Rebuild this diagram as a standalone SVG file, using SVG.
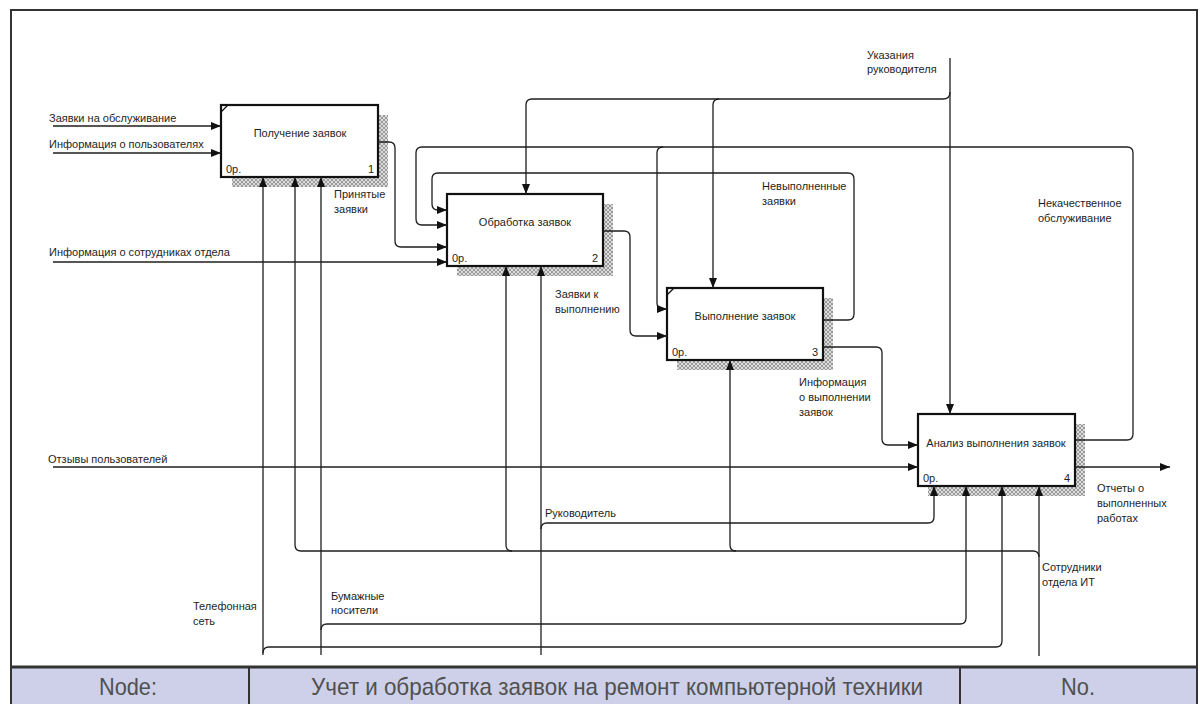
<svg xmlns="http://www.w3.org/2000/svg" width="1200" height="704" viewBox="0 0 1200 704">
  <style>
    .lbl { font-family: "Liberation Sans", Arial, sans-serif; font-size: 11px; fill: #1e1e1e; }
    .box { fill: #ffffff; stroke: #111111; stroke-width: 2.2; }
    .shadow { fill: url(#hatch); }
    .tick { stroke: #111111; stroke-width: 1.2; fill: none; }
    .con { fill: none; stroke: #1e1e1e; stroke-width: 1.3; }
    .arr { marker-end: url(#ah); }
    .frame { fill: none; stroke: #333333; stroke-width: 2; }
    .cell { fill: #cdd0e8; stroke: #333333; stroke-width: 2; }
    .hdr { font-family: "Liberation Sans", Arial, sans-serif; font-size: 24px; fill: #505050; }
  </style>
  <defs>
    <pattern id="hatch" width="4" height="4" patternUnits="userSpaceOnUse">
      <rect width="4" height="4" fill="#dcdcdc"/>
      <path d="M0,0 L4,4 M4,0 L0,4" stroke="#8a8a8a" stroke-width="0.8"/>
    </pattern>
    <marker id="ah" markerWidth="10" markerHeight="8" refX="10" refY="4" orient="auto" markerUnits="userSpaceOnUse">
      <path d="M0,0 L10,4 L0,8 z" fill="#111111"/>
    </marker>
  </defs>

  <rect x="0" y="0" width="1200" height="704" fill="#ffffff"/>

  <!-- drawing frame -->
  <g id="frame">
    <path class="frame" d="M11,667 V10 H1197 V667"/>
  </g>

  <!-- activity boxes -->
  <g id="node-1">
    <path class="shadow" d="M378,115 H388 V187 H232 V177 H378 Z"/>
    <rect class="box" x="221" y="105" width="157" height="72"/>
    <path class="tick" d="M221,112 L228,105"/>
    <text class="lbl" x="300" y="137" text-anchor="middle">Получение заявок</text>
    <text class="lbl" x="226" y="173">0р.</text>
    <text class="lbl" x="374" y="173" text-anchor="end">1</text>
  </g>
  <g id="node-2">
    <path class="shadow" d="M603,204 H613 V276 H457 V266 H603 Z"/>
    <rect class="box" x="447" y="194" width="156" height="72"/>
    <text class="lbl" x="525" y="226" text-anchor="middle">Обработка заявок</text>
    <text class="lbl" x="452" y="262">0р.</text>
    <text class="lbl" x="598" y="262" text-anchor="end">2</text>
  </g>
  <g id="node-3">
    <path class="shadow" d="M823,298 H833 V370 H677 V360 H823 Z"/>
    <rect class="box" x="667" y="288" width="156" height="72"/>
    <path class="tick" d="M667,295 L674,288"/>
    <text class="lbl" x="745" y="320" text-anchor="middle">Выполнение заявок</text>
    <text class="lbl" x="672" y="356">0р.</text>
    <text class="lbl" x="818" y="356" text-anchor="end">3</text>
  </g>
  <g id="node-4">
    <path class="shadow" d="M1075,424 H1085 V496 H928 V486 H1075 Z"/>
    <rect class="box" x="918" y="414" width="157" height="72"/>
    <text class="lbl" x="996" y="447" text-anchor="middle">Анализ выполнения заявок</text>
    <text class="lbl" x="923" y="482">0р.</text>
    <text class="lbl" x="1070" y="482" text-anchor="end">4</text>
  </g>

  <!-- arrows -->
  <g id="connectors">
    <!-- inputs from the left border -->
    <path class="con arr" d="M53,126 H221"/>
    <path class="con arr" d="M53,153 H221"/>
    <path class="con arr" d="M53,262 H447"/>
    <path class="con arr" d="M53,467 H918"/>

    <!-- 1 -> 2 -->
    <path class="con arr" d="M378,142 H389 Q395,142 395,148 V241 Q395,247 401,247 H447"/>
    <!-- 2 -> 3 -->
    <path class="con arr" d="M603,231 H624 Q630,231 630,237 V330 Q630,336 636,336 H667"/>
    <!-- 3 -> 2 feedback -->
    <path class="con arr" d="M823,320 H848 Q854,320 854,314 V179 Q854,173 848,173 H438 Q432,173 432,179 V204 Q432,210 438,210 H447"/>
    <!-- 3 -> 4 -->
    <path class="con arr" d="M823,347 H876 Q882,347 882,353 V439 Q882,445 888,445 H918"/>
    <!-- 4 -> 2, 3 feedback -->
    <path class="con arr" d="M1075,440 H1127 Q1133,440 1133,434 V153 Q1133,147 1127,147 H422 Q416,147 416,153 V219 Q416,225 422,225 H447"/>
    <path class="con arr" d="M663,147 Q657,147 657,153 V303 Q657,309 663,309 H667"/>
    <!-- 4 output -->
    <path class="con arr" d="M1075,467 H1170"/>

    <!-- control from the top -->
    <path class="con arr" d="M950,58 V414"/>
    <path class="con arr" d="M950,92 Q950,99 943,99 H532 Q526,99 526,105 V194"/>
    <path class="con arr" d="M719,99 Q713,99 713,105 V288"/>

    <!-- mechanisms from the bottom -->
    <path class="con arr" d="M263,655 V177"/>
    <path class="con arr" d="M263,653 Q263,647 269,647 H996 Q1002,647 1002,641 V486"/>
    <path class="con arr" d="M321,655 V177"/>
    <path class="con arr" d="M321,630 Q321,624 327,624 H960 Q966,624 966,618 V486"/>
    <path class="con arr" d="M541,655 V266"/>
    <path class="con arr" d="M541,529 Q541,523 547,523 H928 Q934,523 934,517 V486"/>
    <path class="con arr" d="M1039,656 V486"/>
    <path class="con" d="M301,551 H1033 Q1039,551 1039,557"/>
    <path class="con arr" d="M301,551 Q295,551 295,545 V177"/>
    <path class="con arr" d="M512,551 Q506,551 506,545 V266"/>
    <path class="con arr" d="M736,551 Q730,551 730,545 V360"/>
  </g>

  <!-- arrow labels -->
  <g id="labels">
    <text class="lbl" x="49" y="122">Заявки на обслуживание</text>
    <text class="lbl" x="49" y="148">Информация о пользователях</text>
    <text class="lbl" x="49" y="256">Информация о сотрудниках отдела</text>
    <text class="lbl" x="48" y="463">Отзывы пользователей</text>
    <text class="lbl" x="334" y="198">Принятые</text>
    <text class="lbl" x="334" y="213">заявки</text>
    <text class="lbl" x="555" y="298">Заявки к</text>
    <text class="lbl" x="555" y="313">выполнению</text>
    <text class="lbl" x="762" y="190">Невыполненные</text>
    <text class="lbl" x="762" y="205">заявки</text>
    <text class="lbl" x="867" y="59">Указания</text>
    <text class="lbl" x="867" y="73">руководителя</text>
    <text class="lbl" x="1038" y="207">Некачественное</text>
    <text class="lbl" x="1038" y="222">обслуживание</text>
    <text class="lbl" x="799" y="386">Информация</text>
    <text class="lbl" x="799" y="401">о выполнении</text>
    <text class="lbl" x="799" y="416">заявок</text>
    <text class="lbl" x="1097" y="492">Отчеты о</text>
    <text class="lbl" x="1097" y="507">выполненных</text>
    <text class="lbl" x="1097" y="522">работах</text>
    <text class="lbl" x="1042" y="571">Сотрудники</text>
    <text class="lbl" x="1042" y="586">отдела ИТ</text>
    <text class="lbl" x="545" y="517">Руководитель</text>
    <text class="lbl" x="193" y="610">Телефонная</text>
    <text class="lbl" x="193" y="625">сеть</text>
    <text class="lbl" x="331" y="600">Бумажные</text>
    <text class="lbl" x="331" y="614">носители</text>
  </g>

  <!-- title block -->
  <g id="title-block">
    <rect class="cell" x="11" y="667" width="238" height="40"/>
    <rect class="cell" x="249" y="667" width="711" height="40"/>
    <rect class="cell" x="960" y="667" width="237" height="40"/>
    <line x1="11" y1="667" x2="1197" y2="667" stroke="#333333" stroke-width="3"/>
    <text class="hdr" x="128" y="695" text-anchor="middle" textLength="58" lengthAdjust="spacingAndGlyphs">Node:</text>
    <text class="hdr" x="617" y="695" text-anchor="middle" textLength="612" lengthAdjust="spacingAndGlyphs">Учет и обработка заявок на ремонт компьютерной техники</text>
    <text class="hdr" x="1078" y="695" text-anchor="middle" textLength="34" lengthAdjust="spacingAndGlyphs">No.</text>
  </g>
</svg>
